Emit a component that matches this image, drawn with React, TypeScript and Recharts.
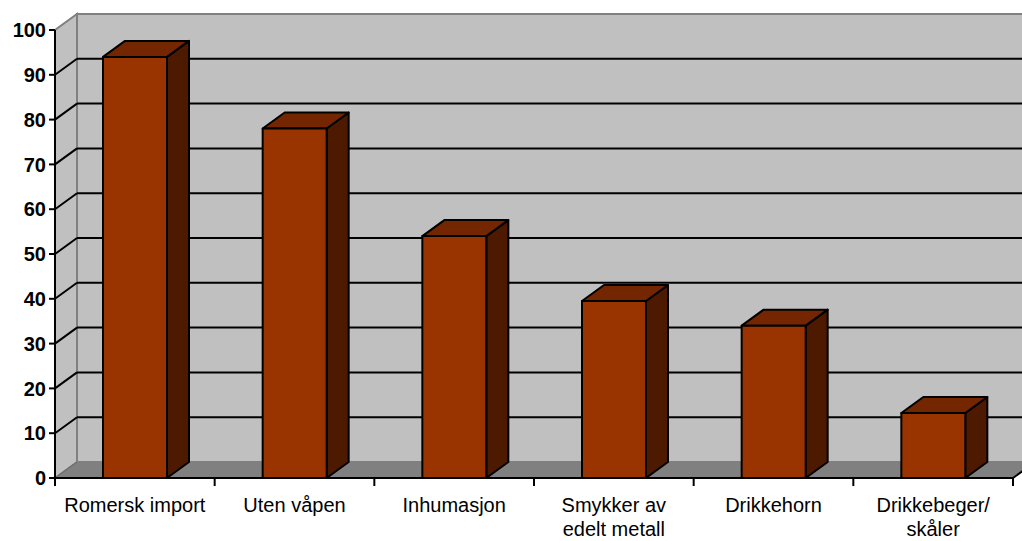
import { BarChart, Bar, XAxis, YAxis, CartesianGrid, ReferenceArea } from "recharts";

// Categories (wrapped like the original labels) and bar values.
const CATEGORIES = [
  "Romersk import",
  "Uten våpen",
  "Inhumasjon",
  "Smykker av\nedelt metall",
  "Drikkehorn",
  "Drikkebeger/\nskåler",
];
const VALUES = [94, 78, 54, 39.5, 34, 14.5];
const Y_TICKS = [0, 10, 20, 30, 40, 50, 60, 70, 80, 90, 100];

const data = CATEGORIES.map((name, i) => ({ name, value: VALUES[i] }));

// oblique depth offset of the 3D look
const DX = 22;
const DY = 16;
const FONT = "'Liberation Sans', Arial, sans-serif";

function Walls(props: any) {
  const { x, y, width: w, height: h } = props;
  const b = y + h;
  return (
    <g>
      <rect x={x + DX} y={y - DY} width={w} height={h} fill="#c0c0c0" stroke="#808080" strokeWidth={2} />
      <polygon
        points={`${x},${y} ${x + DX},${y - DY} ${x + DX},${b - DY} ${x},${b}`}
        fill="#c0c0c0"
        stroke="#808080"
        strokeWidth={2}
      />
      <polygon
        points={`${x},${b} ${x + DX},${b - DY} ${x + w + DX},${b - DY} ${x + w},${b}`}
        fill="#808080"
        stroke="none"
      />
      <line x1={x} y1={b} x2={x + DX} y2={b - DY} stroke="#666" strokeWidth={1} />
      <line x1={x + w} y1={b} x2={x + w + DX} y2={b - DY} stroke="#000" strokeWidth={2} />
    </g>
  );
}

function GridLine(p: any) {
  const { x1, y1, x2, y, height } = p;
  if (y !== undefined && height !== undefined && (Math.abs(y1 - y) < 1 || Math.abs(y1 - (y + height)) < 1)) {
    return <g key={p.key} />;
  }
  return (
    <g key={p.key}>
      <line x1={x1} y1={y1} x2={x1 + DX} y2={y1 - DY} stroke="#000" strokeWidth={2} />
      <line x1={x1 + DX} y1={y1 - DY} x2={x2 + DX} y2={y1 - DY} stroke="#000" strokeWidth={2} />
    </g>
  );
}

function Bar3D(props: any) {
  const { x, y, width: w, height: h } = props;
  if (!h) return null;
  const b = y + h;
  return (
    <g stroke="#000" strokeWidth={2} strokeLinejoin="round">
      <polygon points={`${x + w},${y} ${x + w + DX},${y - DY} ${x + w + DX},${b - DY} ${x + w},${b}`} fill="#4d1a00" />
      <polygon points={`${x},${y} ${x + DX},${y - DY} ${x + w + DX},${y - DY} ${x + w},${y}`} fill="#732600" />
      <rect x={x} y={y} width={w} height={h} fill="#993300" />
    </g>
  );
}

function CategoryTick(props: any) {
  const { x, y, payload, index } = props;
  const half = payload.offset ?? 0;
  const lines = String(payload.value).split("\n");
  return (
    <g>
      <line x1={x - half} y1={y - 8} x2={x - half} y2={y} stroke="#000" strokeWidth={2} />
      {index === CATEGORIES.length - 1 && (
        <line x1={x + half} y1={y - 8} x2={x + half} y2={y} stroke="#000" strokeWidth={2} />
      )}
      {lines.map((ln, i) => (
        <text key={i} x={x} y={y + 26 + i * 24} textAnchor="middle" fontSize={20} fontFamily={FONT} fill="#000">
          {ln}
        </text>
      ))}
    </g>
  );
}

export default function App() {
  return (
    <div style={{ position: "absolute", left: 0, top: 0, background: "#fff" }}>
      <BarChart
        width={1022}
        height={541}
        data={data}
        margin={{ top: 30, right: 9, bottom: 0, left: 0 }}
        barSize={64}
      >
        <ReferenceArea y1={0} y2={100} ifOverflow="visible" shape={Walls} zIndex={-200} />
        <CartesianGrid vertical={false} horizontal={GridLine} />
        <XAxis
          dataKey="name"
          interval={0}
          height={63}
          tickSize={8}
          tickMargin={0}
          tickLine={false}
          axisLine={{ stroke: "#000", strokeWidth: 2 }}
          tick={<CategoryTick />}
        />
        <YAxis
          domain={[0, 100]}
          ticks={Y_TICKS}
          interval={0}
          width={55}
          tickSize={6}
          tickMargin={3}
          axisLine={{ stroke: "#000", strokeWidth: 2 }}
          tickLine={{ stroke: "#000", strokeWidth: 2 }}
          tick={{ fill: "#000", fontSize: 20, fontWeight: "bold", fontFamily: FONT }}
        />
        <Bar dataKey="value" shape={<Bar3D />} isAnimationActive={false} />
      </BarChart>
    </div>
  );
}
